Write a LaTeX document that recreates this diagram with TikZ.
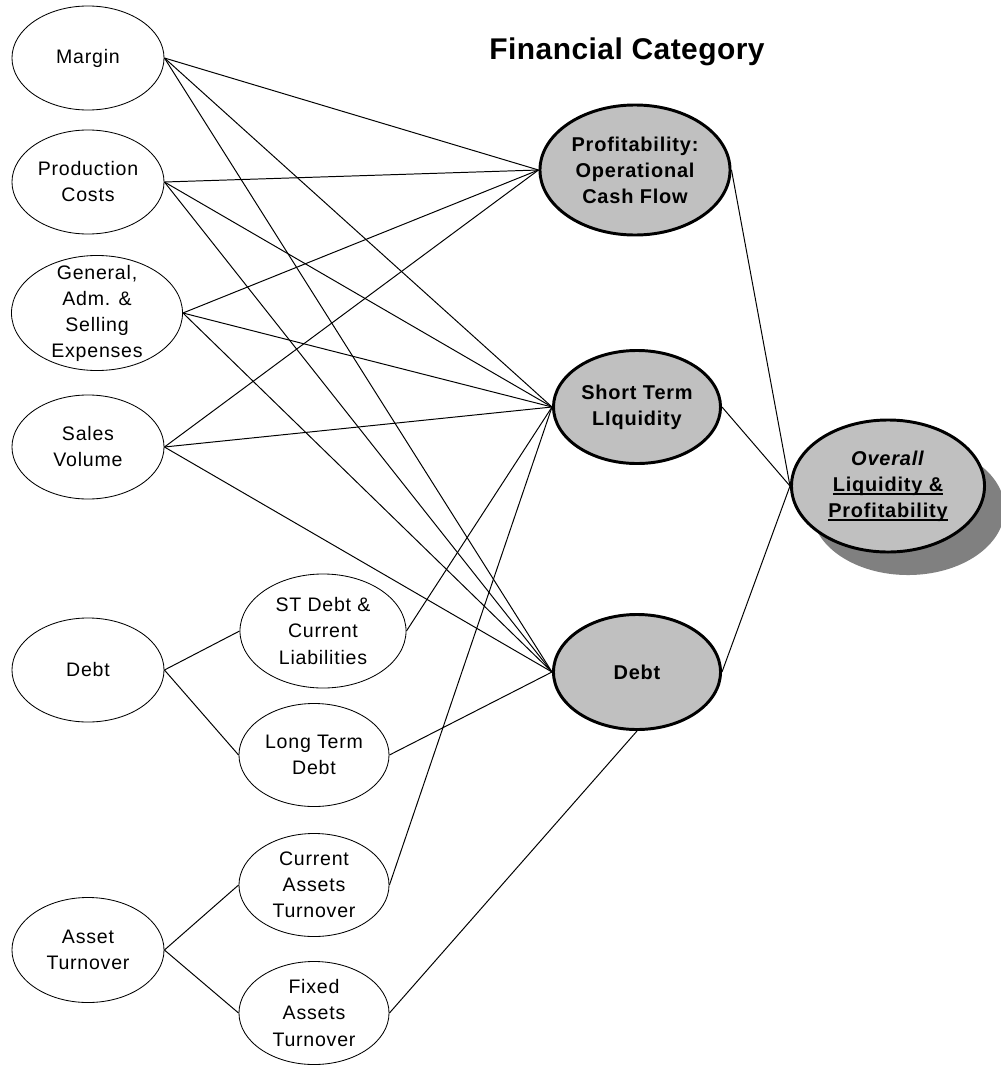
\documentclass[tikz,border=0pt]{standalone}
\usepackage{fontspec}
\setmainfont{Liberation Sans}[LetterSpace=4]
\usetikzlibrary{shapes.geometric, shadows}
\definecolor{catgray}{HTML}{C0C0C0}
\definecolor{shadowgray}{HTML}{808080}
\newcommand\undl[1]{\setbox0\hbox{#1}\rlap{\rule[-2.4pt]{\wd0}{0.8pt}}\box0}

\begin{document}
\begin{tikzpicture}[x=0.025cm, y=-0.025cm,
    leaf/.style={ellipse, draw, line width=0.6pt, inner sep=0pt,
      minimum width=3.8cm, minimum height=2.6cm},
    sub/.style={leaf, minimum width=3.75cm, minimum height=2.575cm},
    txt/.style={font=\fontsize{13.9}{18.5}\selectfont, align=center, anchor=center, inner sep=0pt},
    cat/.style={ellipse, draw, line width=2.1pt, fill=catgray, inner sep=0pt,
      minimum width=4.175cm, minimum height=2.85cm},
    cattxt/.style={font=\fontsize{14.2}{18.5}\selectfont\bfseries, align=center, anchor=center, inner sep=0pt},
    link/.style={line width=0.7pt}]
    \useasboundingbox (0,0) rectangle (1000,1065);

    \node[font=\fontsize{21.3}{25}\selectfont\bfseries\addfontfeatures{LetterSpace=1.5}] (title) at (627,52) {Financial Category};

    \node[leaf, label={[txt]center:Margin}] (margin) at (88,58) {};
    \node[leaf, label={[txt]center:{Production\\Costs}}] (prod) at (88,182) {};
    \node[leaf, minimum width=4.275cm, minimum height=2.875cm,
      label={[txt]center:{General,\\Adm. \&\\Selling\\Expenses}}] (gen) at (97,313) {};
    \node[leaf, label={[txt]center:{Sales\\Volume}}] (sales) at (88,447) {};
    \node[leaf, label={[txt]center:Debt}] (debtl) at (88,670) {};
    \node[leaf, minimum height=2.625cm, label={[txt]center:{Asset\\Turnover}}] (assett) at (88,950) {};

    \node[sub, minimum width=4.15cm, minimum height=2.85cm,
      label={[txt]center:{ST Debt \&\\Current\\Liabilities}}] (stdebt) at (323,631) {};
    \node[sub, label={[txt]center:{Long Term\\Debt}}] (ltdebt) at (314,755) {};
    \node[sub, label={[txt]center:{Current\\Assets\\Turnover}}] (cura) at (314,885) {};
    \node[sub, label={[txt]center:{Fixed\\Assets\\Turnover}}] (fixa) at (314,1013) {};

    \node[cat, minimum width=4.75cm, minimum height=3.25cm,
      label={[cattxt]center:{Profitability:\\Operational\\Cash Flow}}] (profit) at (635,170) {};
    \node[cat, minimum height=2.825cm, label={[cattxt]center:{Short Term\\LIquidity}}] (stliq) at (637,407) {};
    \node[cat, minimum height=2.875cm, label={[cattxt]center:Debt}] (debtc) at (637,672) {};

    \node[cat, minimum width=4.825cm, minimum height=3.3cm,
      drop shadow={shadow xshift=0.5cm, shadow yshift=-0.575cm, fill=shadowgray, opacity=1},
      label={[cattxt]center:{\textit{Overall}\\\undl{Liquidity \&}\\\undl{Profitability}}}] (overall) at (888,486) {};

    \foreach \src in {margin,prod,gen,sales}
      \foreach \dst in {profit,stliq,debtc}
        \draw[link] (\src.east) -- (\dst.west);

    \draw[link] (debtl.east) -- (stdebt.west);
    \draw[link] (debtl.east) -- (ltdebt.west);
    \draw[link] (assett.east) -- (cura.west);
    \draw[link] (assett.east) -- (fixa.west);

    \draw[link] (stdebt.east) -- (stliq.west);
    \draw[link] (cura.east) -- (stliq.west);
    \draw[link] (ltdebt.east) -- (debtc.west);
    \draw[link] (fixa.east) -- (debtc.south);

    \foreach \cat in {profit,stliq,debtc}
      \draw[link] (\cat.east) -- (overall.west);
\end{tikzpicture}
\end{document}
